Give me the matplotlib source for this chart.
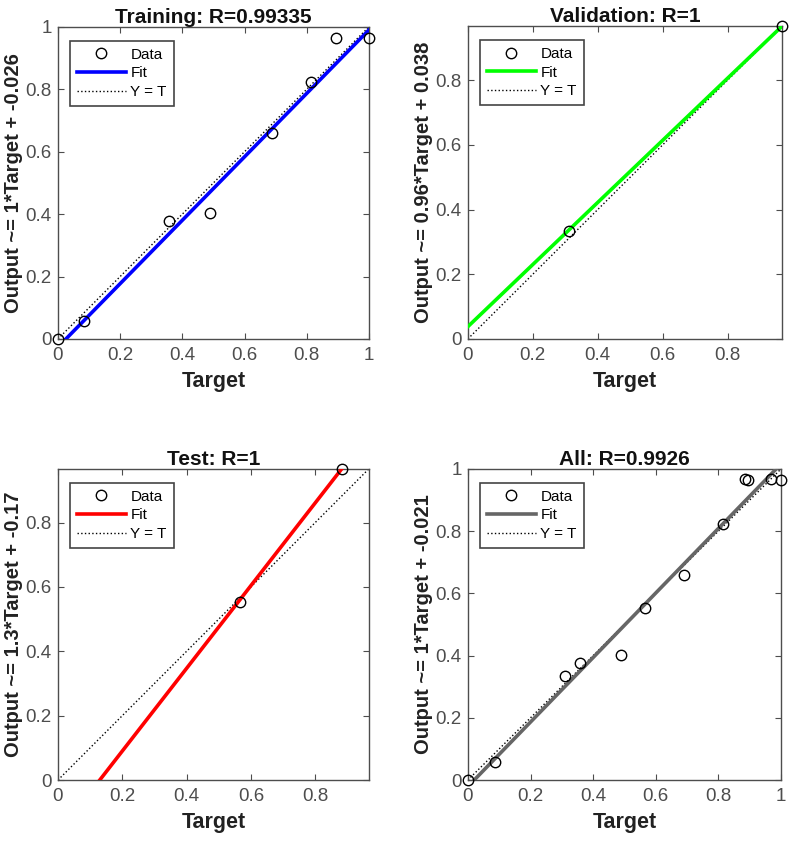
import matplotlib
matplotlib.use("Agg")
import matplotlib.pyplot as plt
import numpy as np
from matplotlib.ticker import FuncFormatter

plt.rcParams['font.family'] = ['Liberation Sans', 'DejaVu Sans']

# data (target, output)
train_t = [0.0, 0.085, 0.358, 0.488, 0.689, 0.813, 0.895, 1.0]
train_y = [0.0, 0.057, 0.377, 0.403, 0.660, 0.823, 0.965, 0.965]
val_t = [0.310, 0.967]
val_y = [0.335, 0.967]
test_t = [0.565, 0.885]
test_y = [0.553, 0.967]
all_t = train_t + val_t + test_t
all_y = train_y + val_y + test_y

titles = ["Training: R=0.99335", "Validation: R=1", "Test: R=1", "All: R=0.9926"]
ylabels = ["Output ~= 1*Target + -0.026", "Output ~= 0.96*Target + 0.038",
           "Output ~= 1.3*Target + -0.17", "Output ~= 1*Target + -0.021"]
slopes = [1.016, 0.96, 1.285, 1.037]
intercepts = [-0.026, 0.038, -0.167, -0.021]
fit_colors = ["#0000ff", "#00ff00", "#ff0000", "#666666"]

sets = [(train_t, train_y), (val_t, val_y), (test_t, test_y), (all_t, all_y)]

# axes positions [left, bottom, width, height] in figure fractions
positions = [
    [0.0735, 0.597, 0.394, 0.371],
    [0.593, 0.597, 0.398, 0.372],
    [0.0735, 0.0725, 0.394, 0.370],
    [0.593, 0.0725, 0.397, 0.370],
]

axis_col = "#4d4d4d"

fig = plt.figure(figsize=(7.89, 8.41), dpi=100)

for i in range(4):
    t, y = sets[i]
    ax = fig.add_axes(positions[i])
    hi = max(max(t), max(y))
    lo = 0.0
    xs = np.array([lo, hi])

    ax.plot(t, y, 'o', mfc='none', mec='black', ms=7.5, mew=1.0, label='Data',
            zorder=4, clip_on=False)
    ax.plot(xs, slopes[i] * xs + intercepts[i], '-', color=fit_colors[i], lw=2.6,
            label='Fit', zorder=3)
    ax.plot(xs, xs, ':', color='black', lw=1.0, label='Y = T', zorder=2)

    ax.set_xlim(lo, hi)
    ax.set_ylim(lo, hi)
    ticks = np.arange(0, hi + 1e-9, 0.2)
    ax.set_xticks(ticks)
    ax.set_yticks(ticks)
    fmt = FuncFormatter(lambda v, p: ('%g' % round(v, 2)))
    ax.xaxis.set_major_formatter(fmt)
    ax.yaxis.set_major_formatter(fmt)

    ax.tick_params(direction='in', top=True, right=True, length=4, width=0.8,
                   colors=axis_col, labelsize=13.5, pad=6)
    ax.tick_params(axis='y', pad=4.5)
    for sp in ax.spines.values():
        sp.set_color(axis_col)
        sp.set_linewidth(1.0)

    ax.set_title(titles[i], fontsize=15, fontweight='bold', pad=3, color='#111111')
    ax.set_xlabel('Target', fontsize=15.5, fontweight='bold', labelpad=5, color='#222222')
    ax.set_ylabel(ylabels[i], fontsize=14.5, fontweight='bold', labelpad=1.5, color='#222222')

    leg = ax.legend(loc='upper left', fontsize=11, handlelength=3.2, handletextpad=0.3,
                    borderpad=0.45, labelspacing=0.3, fancybox=False, framealpha=1,
                    edgecolor='#444444', bbox_to_anchor=(0.039, 0.955), borderaxespad=0)
    leg.get_frame().set_linewidth(1.2)

fig.savefig('out.png', dpi=100)
